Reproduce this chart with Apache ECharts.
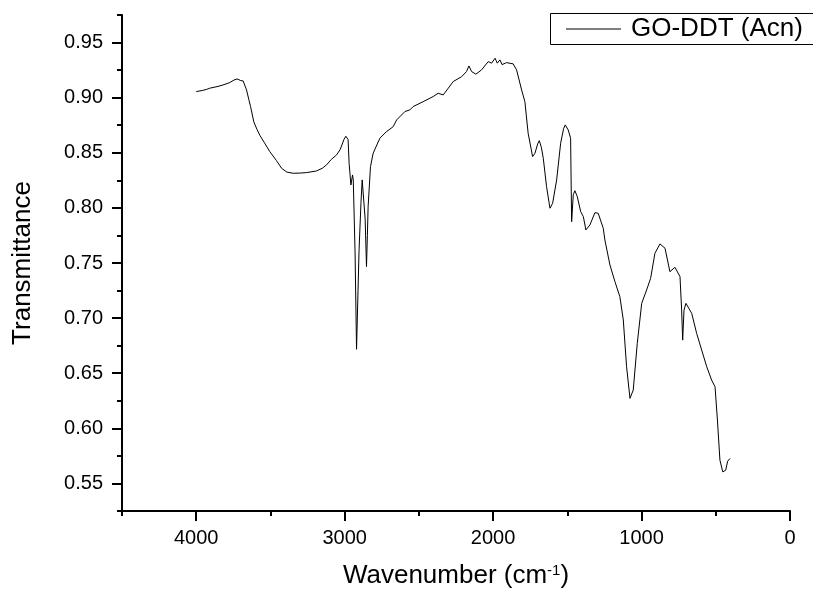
<!DOCTYPE html>
<html>
<head>
<meta charset="utf-8">
<script src="https://cdn.jsdelivr.net/npm/echarts@6/dist/echarts.min.js"></script>
<style>html,body{margin:0;padding:0;background:#fff;}#c{width:813px;height:594px;}</style>
</head>
<body>
<div id="c"></div>
<script>
var seriesName = 'GO-DDT (Acn)';
var wavenumber = [4000,3960,3930,3909,3860,3820,3774,3745,3725,3700,3684,3661,3645,3634,3612,3590,3572,3540,3504,3460,3425,3390,3347,3300,3257,3190,3150,3122,3090,3055,3030,3005,2992,2984,2977,2970,2958,2947,2942,2930,2920,2910,2903,2890,2882,2871,2862,2853,2847,2842,2826,2808,2763,2720,2673,2650,2594,2561,2539,2471,2404,2370,2336,2302,2269,2212,2179,2163,2145,2116,2078,2033,2020,2010,1987,1972,1954,1940,1909,1880,1865,1842,1808,1786,1764,1734,1718,1700,1689,1675,1662,1640,1617,1599,1572,1545,1525,1514,1494,1478,1471,1460,1449,1433,1410,1392,1375,1348,1314,1292,1258,1247,1213,1179,1146,1123,1101,1078,1056,1029,999,966,939,910,876,842,809,775,741,730,723,714,701,662,629,595,561,528,505,489,472,453,433,420,404];
var transmittance = [0.9055,0.9065,0.9075,0.9086,0.9100,0.9115,0.9137,0.9160,0.9170,0.9155,0.9152,0.9070,0.8980,0.8920,0.8780,0.8710,0.8660,0.8590,0.8510,0.8430,0.8360,0.8325,0.8314,0.8316,0.8320,0.8335,0.8360,0.8390,0.8440,0.8480,0.8530,0.8620,0.8650,0.8647,0.8620,0.8405,0.8208,0.8299,0.8254,0.7600,0.6717,0.7250,0.7620,0.8050,0.8254,0.8240,0.7900,0.7467,0.7750,0.8010,0.8374,0.8496,0.8632,0.8690,0.8737,0.8798,0.8874,0.8889,0.8919,0.8964,0.9010,0.9040,0.9025,0.9086,0.9146,0.9191,0.9237,0.9288,0.9237,0.9213,0.9252,0.9327,0.9320,0.9313,0.9358,0.9313,0.9343,0.9300,0.9318,0.9310,0.9307,0.9252,0.9070,0.8964,0.8677,0.8465,0.8496,0.8580,0.8610,0.8550,0.8450,0.8193,0.7997,0.8042,0.8254,0.8587,0.8720,0.8753,0.8707,0.8632,0.7875,0.8120,0.8156,0.8102,0.7966,0.7920,0.7800,0.7845,0.7957,0.7951,0.7815,0.7709,0.7482,0.7330,0.7194,0.6983,0.6559,0.6272,0.6347,0.6771,0.7134,0.7255,0.7361,0.7588,0.7673,0.7634,0.7421,0.7461,0.7376,0.7073,0.6800,0.7073,0.7134,0.7043,0.6862,0.6710,0.6559,0.6438,0.6377,0.6075,0.5711,0.5605,0.5620,0.5702,0.5727];
var xMajorTicks = [0,1000,2000,3000,4000];
var xMinorTicks = [500,1500,2500,3500,4500];
var yMajorTicks = [0.55,0.60,0.65,0.70,0.75,0.80,0.85,0.90,0.95];
var yMinorTicks = [0.525,0.575,0.625,0.675,0.725,0.775,0.825,0.875,0.925,0.975];
var xRange = [0, 4500];
var yRange = [0.525, 0.975];

var FONT = 'Liberation Sans, Arial, sans-serif';
var data = wavenumber.map(function(w, i){ return [w, transmittance[i]]; });
var axisLineStyle = {color:'#000', width:2};
var gridRect = {left:122, right:23, top:15, bottom:83, containLabel:false};

var chart = echarts.init(document.getElementById('c'), null, {renderer:'canvas'});
chart.setOption({
  animation:false,
  backgroundColor:'#fff',
  grid:[Object.assign({}, gridRect), Object.assign({}, gridRect)],
  graphic:[{
    type:'rect', z:0,
    shape:{x:550.5, y:13.5, width:300, height:31},
    style:{fill:'#fff', stroke:'#000', lineWidth:1}
  }],
  legend:{
    show:true, data:[{name:seriesName, icon:'rect'}],
    left:551, top:14, orient:'horizontal', z:5,
    borderWidth:0, backgroundColor:'transparent',
    padding:[2,10,2,15],
    itemWidth:55, itemHeight:1,
    textStyle:{fontFamily:FONT, fontSize:26, color:'#000', padding:[0,0,0,5]}
  },
  xAxis:[{
    gridIndex:0, type:'value', min:xRange[0], max:xRange[1], inverse:true, position:'bottom',
    name:'{a|Wavenumber (cm}{b|-1}{a|)}', nameLocation:'middle', nameGap:52,
    nameTextStyle:{fontFamily:FONT, color:'#000', rich:{
      a:{fontFamily:FONT, fontSize:26, color:'#000'},
      b:{fontFamily:FONT, fontSize:15, color:'#000', verticalAlign:'top'}
    }},
    axisLine:{show:true, onZero:false, lineStyle:axisLineStyle},
    axisTick:{show:true, inside:false, length:10, lineStyle:axisLineStyle, customValues:xMajorTicks},
    axisLabel:{show:true, customValues:xMajorTicks, margin:17, fontFamily:FONT, fontSize:20, color:'#000',
      formatter:function(v){ return String(Math.round(v)); }},
    splitLine:{show:false}
  },{
    gridIndex:1, type:'value', min:xRange[0], max:xRange[1], inverse:true, position:'bottom', offset:0,
    axisLine:{show:false, onZero:false},
    axisTick:{show:true, inside:false, length:5, lineStyle:axisLineStyle, customValues:xMinorTicks},
    axisLabel:{show:false},
    splitLine:{show:false}
  }],
  yAxis:[{
    gridIndex:0, type:'value', min:yRange[0], max:yRange[1], position:'left',
    name:'Transmittance', nameLocation:'middle', nameGap:86, nameRotate:90,
    nameTextStyle:{fontFamily:FONT, fontSize:26, color:'#000'},
    axisLine:{show:true, onZero:false, lineStyle:axisLineStyle},
    axisTick:{show:true, inside:false, length:10, lineStyle:axisLineStyle, customValues:yMajorTicks},
    axisLabel:{show:true, customValues:yMajorTicks, margin:19, fontFamily:FONT, fontSize:20, color:'#000',
      formatter:function(v){ return v.toFixed(2); }},
    splitLine:{show:false}
  },{
    gridIndex:1, type:'value', min:yRange[0], max:yRange[1], position:'left', offset:0,
    axisLine:{show:false, onZero:false},
    axisTick:{show:true, inside:false, length:5, lineStyle:axisLineStyle, customValues:yMinorTicks},
    axisLabel:{show:false},
    splitLine:{show:false}
  }],
  series:[{
    name:seriesName, type:'line', xAxisIndex:0, yAxisIndex:0,
    data:data, showSymbol:false, symbol:'none', smooth:false,
    lineStyle:{color:'#000', width:1},
    itemStyle:{color:'#000'}
  }]
});
</script>
</body>
</html>
